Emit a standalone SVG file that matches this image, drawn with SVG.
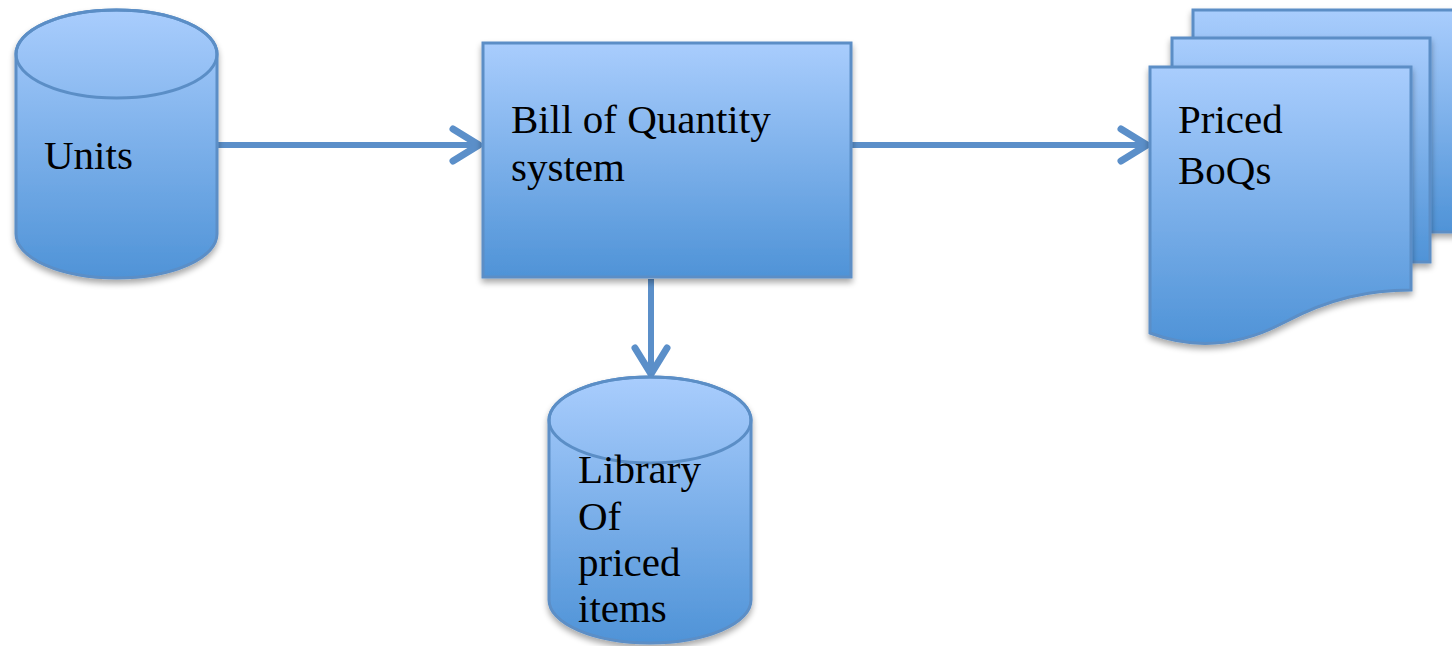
<svg xmlns="http://www.w3.org/2000/svg" width="1452" height="646" viewBox="0 0 1452 646">
<defs>
<linearGradient id="g" x1="0" y1="0" x2="0" y2="1">
<stop offset="0" stop-color="#a9cdfd"/>
<stop offset="1" stop-color="#4f93d7"/>
</linearGradient>
<filter id="sh" x="-10%" y="-10%" width="125%" height="130%">
<feGaussianBlur in="SourceAlpha" stdDeviation="3"/>
<feOffset dx="0" dy="4" result="b"/>
<feComponentTransfer><feFuncA type="linear" slope="0.35"/></feComponentTransfer>
<feMerge><feMergeNode/><feMergeNode in="SourceGraphic"/></feMerge>
</filter>
<marker id="ah" viewBox="0 0 36 40" refX="31" refY="20" markerWidth="36" markerHeight="40" markerUnits="userSpaceOnUse" orient="auto">
<path d="M5,4 L31,20 L5,36" fill="none" stroke="#5b8fc9" stroke-width="7" stroke-linecap="round" stroke-linejoin="round"/>
</marker>
</defs>
<style>
.shape{fill:url(#g);stroke:#5b8ec6;stroke-width:3;filter:url(#sh)}
.line{fill:none;stroke:#5b8ec6;stroke-width:3}
.lbl{font-family:"Liberation Serif","Times New Roman",serif;font-size:41px;fill:#000}
.conn{fill:none;stroke:#5b8fc9;stroke-width:6;marker-end:url(#ah)}
</style>
<g id="connectors">
<path class="conn" d="M218,145 L479,145"/>
<path class="conn" d="M852,145 L1147,145"/>
<path class="conn" d="M651,279 L651,374"/>
</g>
<g id="units">
<path class="shape" d="M16,54 A100.5,44 0 0 1 217,54 L217,234 A100.5,44 0 0 1 16,234 Z"/>
<ellipse class="line" cx="116.5" cy="54" rx="100.5" ry="44"/>
<text class="lbl" x="44" y="169">Units</text>
</g>
<g id="boq-system">
<rect class="shape" x="483" y="43" width="368" height="234"/>
<text class="lbl" x="511" y="133">Bill of Quantity</text>
<text class="lbl" x="511" y="181">system</text>
</g>
<g id="library">
<path class="shape" d="M549,420 A101,43 0 0 1 751,420 L751,600 A101,43 0 0 1 549,600 Z"/>
<ellipse class="line" cx="650" cy="420" rx="101" ry="43"/>
<text class="lbl" x="578" y="483">Library</text>
<text class="lbl" x="578" y="530">Of</text>
<text class="lbl" x="578" y="576">priced</text>
<text class="lbl" x="578" y="622">items</text>
</g>
<g id="priced-boqs">
<rect class="shape" x="1193" y="10" width="270" height="222"/>
<rect class="shape" x="1172" y="38" width="258" height="224"/>
<path class="shape" d="M1150,67 L1411,67 L1411,290 C1370,290 1330,298 1285,322 C1240,346 1195,350 1150,333 Z"/>
<text class="lbl" x="1178" y="133">Priced</text>
<text class="lbl" x="1178" y="184">BoQs</text>
</g>
</svg>
